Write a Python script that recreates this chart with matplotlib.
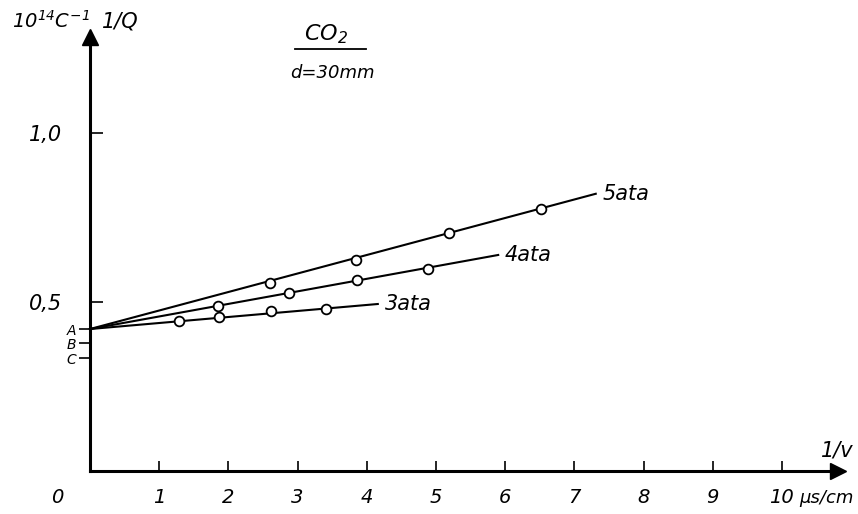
import matplotlib
matplotlib.use("Agg")
import matplotlib.pyplot as plt

# data (1/v in us/cm, 1/Q in 10^14 C^-1)
intercept = 0.42
series = ["3ata", "4ata", "5ata"]
pts_x = [
	[1.28, 1.86, 2.61, 3.41],
	[1.85, 2.88, 3.86, 4.88],
	[2.60, 3.84, 5.19, 6.52],
]
pts_y = [
	[0.444, 0.457, 0.473, 0.479],
	[0.488, 0.527, 0.565, 0.597],
	[0.556, 0.624, 0.704, 0.775],
]
end_x = [4.16, 5.90, 7.31]
end_y = [0.494, 0.639, 0.820]

x_ticks = [1, 2, 3, 4, 5, 6, 7, 8, 9, 10]
y_ticks = [0.5, 1.0]
y_tick_labels = ["0,5", "1,0"]
abc_vals = [0.42, 0.378, 0.334]
abc_labels = ["A", "B", "C"]

plt.rcParams["font.family"] = ["DejaVu Sans"]
plt.rcParams["font.style"] = "italic"
plt.rcParams["mathtext.fontset"] = "dejavusans"
plt.rcParams["mathtext.default"] = "it"

fig = plt.figure(figsize=(8.58, 5.14), dpi=100)
ax = fig.add_axes([0, 0, 1, 1])
ax.set_xlim(-1.30, 11.10)
ax.set_ylim(-0.127, 1.393)

# axes as spines through the origin, with arrow heads
for s in ["top", "right"]:
	ax.spines[s].set_visible(False)
ax.spines["left"].set_position(("data", 0))
ax.spines["bottom"].set_position(("data", 0))
ax.spines["left"].set_bounds(0, 1.28)
ax.spines["bottom"].set_bounds(0, 10.8)
ax.spines["left"].set_linewidth(2.2)
ax.spines["bottom"].set_linewidth(2.2)
ax.plot([0], [1.285], marker="^", color="black", markersize=11, clip_on=False)
ax.plot([10.81], [0], marker=">", color="black", markersize=11, clip_on=False)

# ticks
ax.set_xticks(x_ticks)
ax.set_xticklabels([str(v) for v in x_ticks])
ax.tick_params(axis="x", direction="in", length=7, width=1.2, pad=12, labelsize=14)
ax.set_yticks(y_ticks)
ax.set_yticklabels(y_tick_labels)
ax.tick_params(axis="y", which="major", direction="in", length=9, width=1.2,
	pad=20, labelsize=15)
ax.set_yticks(abc_vals, minor=True)
ax.set_yticklabels(abc_labels, minor=True)
ax.tick_params(axis="y", which="minor", direction="out", length=8, width=1.2,
	pad=2, labelsize=10)
ax.text(-0.48, -0.078, "0", fontsize=14, ha="center", va="center")
ax.text(10.25, -0.08, "µs/cm", fontsize=13, ha="left", va="center")

# lines and measured points
for name, xs, ys, ex, ey in zip(series, pts_x, pts_y, end_x, end_y):
	ax.plot([0, ex], [intercept, ey], color="black", lw=1.5)
	ax.plot(xs, ys, "o", color="black", markerfacecolor="white",
		markersize=7, markeredgewidth=1.3)
	ax.text(ex + 0.1, ey, name, fontsize=15, ha="left", va="center")

# labels
ax.text(-0.56, 1.33, r"$10^{14}C^{-1}$", fontsize=14, ha="center", va="center")
ax.text(0.44, 1.33, "1/Q", fontsize=15, ha="center", va="center")
ax.text(10.8, 0.062, "1/v", fontsize=15, ha="center", va="center")
ax.text(3.41, 1.293, r"$CO_2$", fontsize=16, ha="center", va="center")
ax.plot([2.97, 3.99], [1.249, 1.249], color="black", lw=1.3)
ax.text(3.51, 1.178, "d=30mm", fontsize=13, ha="center", va="center")

fig.savefig("out.png", dpi=100)
